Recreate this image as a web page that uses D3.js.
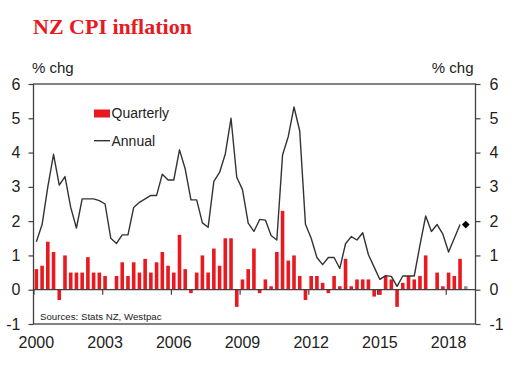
<!DOCTYPE html>
<html>
<head>
<meta charset="utf-8">
<script src="https://cdn.jsdelivr.net/npm/d3@7"></script>
<style>
  html, body { margin: 0; padding: 0; background: #ffffff; }
  svg { display: block; }
</style>
</head>
<body>
<svg id="chart" width="515" height="367"></svg>
<script>
// ---- Data ----
const startYear = 2000;
const quarterly = [
  0.6, 0.7, 1.4, 1.1,     // 2000
  -0.3, 1.0, 0.5, 0.5,    // 2001
  0.5, 0.95, 0.5, 0.5,    // 2002
  0.4, 0.0, 0.4, 0.8,     // 2003
  0.4, 0.8, 0.5, 0.9,     // 2004
  0.5, 0.8, 1.1, 0.7,     // 2005
  0.5, 1.6, 0.6, -0.1,    // 2006
  0.5, 1.0, 0.5, 1.2,     // 2007
  0.7, 1.5, 1.5, -0.5,    // 2008
  0.3, 0.6, 1.2, -0.1,    // 2009
  0.3, 0.1, 1.1, 2.3,     // 2010
  0.85, 1.0, 0.4, -0.3,   // 2011
  0.4, 0.4, 0.2, -0.1,    // 2012
  0.4, 0.1, 0.9, 0.1,     // 2013
  0.3, 0.3, 0.3, -0.2,    // 2014
  -0.15, 0.4, 0.3, -0.5,  // 2015
  0.2, 0.4, 0.3, 0.4,     // 2016
  1.0, 0.0, 0.5, 0.1,     // 2017
  0.5, 0.4, 0.9, 0.1      // 2018 (last = forecast)
];
const forecastBars = 1; // number of trailing forecast bars
const annual = [
  1.4, 1.9, 3.0, 3.95,    // 2000
  3.05, 3.3, 2.4, 1.8,    // 2001
  2.65, 2.65, 2.65, 2.6,  // 2002
  2.5, 1.5, 1.35, 1.6,    // 2003
  1.6, 2.4, 2.55, 2.65,   // 2004
  2.75, 2.75, 3.37, 3.2,  // 2005
  3.2, 4.08, 3.52, 2.62,  // 2006
  2.62, 1.95, 1.82, 3.16, // 2007
  3.42, 3.96, 5.0, 3.28,  // 2008
  2.92, 1.94, 1.7, 2.05,  // 2009
  2.03, 1.58, 1.45, 3.93, // 2010
  4.47, 5.33, 4.63, 1.91, // 2011
  1.5, 0.94, 0.73, 0.94,  // 2012
  0.94, 0.62, 1.34, 1.55, // 2013
  1.45, 1.66, 1.02, 0.66, // 2014
  0.3, 0.41, 0.39, 0.1,   // 2015
  0.4, 0.4, 0.4, 1.3,     // 2016
  2.15, 1.7, 1.9, 1.62,   // 2017
  1.1, 1.5, 1.9           // 2018
];
const annualForecast = [1.9]; // 2018 Q4
const yTicks = [-1, 0, 1, 2, 3, 4, 5, 6];
const xTickYears = [2000, 2003, 2006, 2009, 2012, 2015, 2018];

// ---- Layout ----
const svg = d3.select("#chart");
const L = 33.5, R = 475.5, T = 84, B = 324;
const x = d3.scaleLinear().domain([2000, 2019.3]).range([L, R]);
const y = d3.scaleLinear().domain([-1, 6]).range([B, T]);
const qx = i => x(startYear + (i + 0.5) / 4);

const RED = "#e8191f";
const AX = "#404040";
const FONT = "'Liberation Sans', Arial, sans-serif";

// Title
svg.append("text").attr("x", 33).attr("y", 34)
  .attr("font-family", "'Liberation Serif', 'Times New Roman', serif")
  .attr("font-weight", "bold").attr("font-size", 22).attr("fill", RED)
  .text("NZ CPI inflation");

// Axis unit labels
svg.append("text").attr("x", 32).attr("y", 73).attr("font-family", FONT)
  .attr("font-size", 15).attr("fill", "#222").text("% chg");
svg.append("text").attr("x", 473.5).attr("y", 73).attr("text-anchor", "end")
  .attr("font-family", FONT).attr("font-size", 15).attr("fill", "#222").text("% chg");

// Bars
const bw = 3.6;
svg.append("g").selectAll("rect").data(quarterly).join("rect")
  .attr("x", (d, i) => qx(i) - bw / 2)
  .attr("width", bw)
  .attr("y", d => y(Math.max(0, d)))
  .attr("height", d => Math.abs(y(d) - y(0)))
  .attr("fill", (d, i) => i >= quarterly.length - forecastBars ? "#9c8c82" : RED);

// Zero line
svg.append("line").attr("x1", L).attr("x2", R).attr("y1", y(0)).attr("y2", y(0))
  .attr("stroke", AX).attr("stroke-width", 1.2);

// X ticks on zero line
const xAxis = d3.axisBottom(x).tickValues(xTickYears).tickSize(5).tickSizeOuter(0).tickFormat("");
const gx = svg.append("g").attr("transform", `translate(0,${y(0)})`).call(xAxis);
gx.select(".domain").remove();
gx.selectAll("line").attr("stroke", AX).attr("stroke-width", 1.2);

// X labels
svg.append("g").selectAll("text").data(xTickYears).join("text")
  .attr("x", d => x(d + 0.125)).attr("y", 348)
  .attr("text-anchor", "middle").attr("font-family", FONT).attr("font-size", 16)
  .attr("fill", "#222").text(d => d);

// Annual line
const line = d3.line().x((d, i) => qx(i)).y(d => y(d));
svg.append("path").datum(annual).attr("d", line)
  .attr("fill", "none").attr("stroke", "#333").attr("stroke-width", 1.4)
  .attr("stroke-linejoin", "round");

// Forecast diamond
svg.append("g").selectAll("path").data(annualForecast).join("path")
  .attr("transform", (d, i) => `translate(${qx(annual.length + i)},${y(d)}) rotate(45)`)
  .attr("d", d3.symbol(d3.symbolSquare, 30))
  .attr("fill", "#000");

// Frame
svg.append("rect").attr("x", L).attr("y", T).attr("width", R - L).attr("height", B - T)
  .attr("fill", "none").attr("stroke", AX).attr("stroke-width", 1.3);

// Y axes
const yl = d3.axisLeft(y).tickValues(yTicks).tickSize(5).tickPadding(8).tickFormat(d3.format("d"));
const gyl = svg.append("g").attr("transform", `translate(${L},0)`).call(yl);
const yr = d3.axisRight(y).tickValues(yTicks).tickSize(5).tickPadding(9).tickFormat(d3.format("d"));
const gyr = svg.append("g").attr("transform", `translate(${R},0)`).call(yr);
[gyl, gyr].forEach(g => {
  g.select(".domain").remove();
  g.selectAll("line").attr("stroke", AX).attr("stroke-width", 1.2);
  g.selectAll("text").attr("font-family", FONT).attr("font-size", 16).attr("fill", "#222")
    .text(d => d < 0 ? "-" + Math.abs(d) : d);
});

// Legend
svg.append("rect").attr("x", 94).attr("y", 109.5).attr("width", 16).attr("height", 8).attr("fill", RED);
svg.append("text").attr("x", 111.5).attr("y", 117.5).attr("font-family", FONT)
  .attr("font-size", 14).attr("fill", "#222").text("Quarterly");
svg.append("line").attr("x1", 94).attr("x2", 110).attr("y1", 140.7).attr("y2", 140.7)
  .attr("stroke", "#333").attr("stroke-width", 1.4);
svg.append("text").attr("x", 111.5).attr("y", 146).attr("font-family", FONT)
  .attr("font-size", 14).attr("fill", "#222").text("Annual");

// Source
svg.append("text").attr("x", 40).attr("y", 319.5).attr("font-family", FONT)
  .attr("font-size", 9.7).attr("fill", "#222").text("Sources: Stats NZ, Westpac");
</script>
</body>
</html>
